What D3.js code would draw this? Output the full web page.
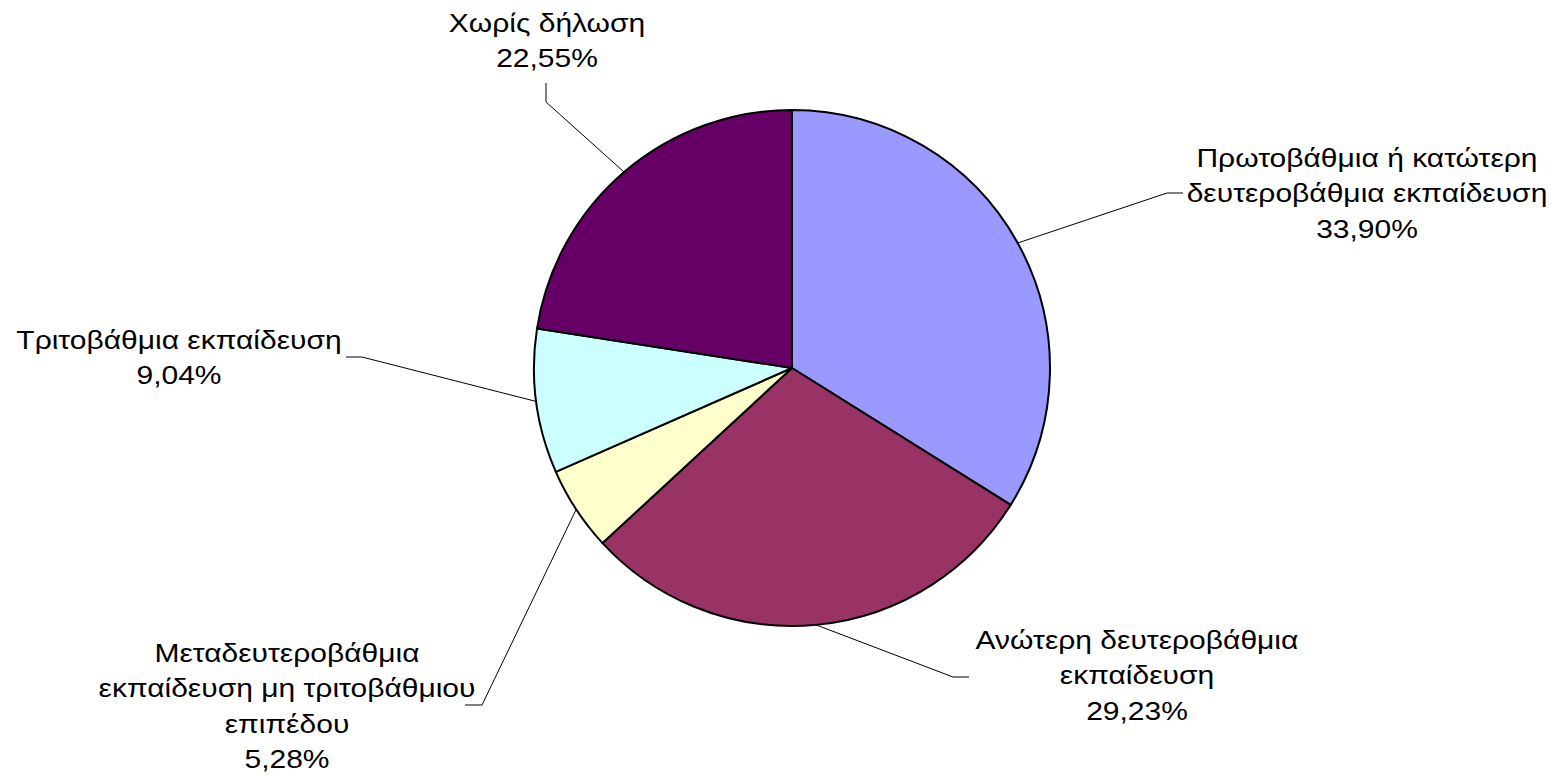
<!DOCTYPE html>
<html>
<head>
<meta charset="utf-8">
<script src="https://cdn.jsdelivr.net/npm/d3@7"></script>
<style>
  html, body { margin: 0; padding: 0; background: #fff; }
  svg { display: block; }
  text { font-family: "Liberation Sans", Arial, sans-serif; fill: #000; }
</style>
</head>
<body>
<svg id="chart" width="1556" height="776"></svg>
<script>
const categories = [
  ["Πρωτοβάθμια ή κατώτερη", "δευτεροβάθμια εκπαίδευση"],
  ["Ανώτερη δευτεροβάθμια", "εκπαίδευση"],
  ["Μεταδευτεροβάθμια", "εκπαίδευση μη τριτοβάθμιου", "επιπέδου"],
  ["Τριτοβάθμια εκπαίδευση"],
  ["Χωρίς δήλωση"]
];
const values = [33.90, 29.23, 5.28, 9.04, 22.55];
const valueLabels = ["33,90%", "29,23%", "5,28%", "9,04%", "22,55%"];
const colors = ["#9999FF", "#993366", "#FFFFCC", "#CCFFFF", "#660066"];

// label layout: [centerX, firstLineCenterY], leader elbow & end
const labelPos = [
  [1367, 158], [1137, 640], [287, 653], [179, 340], [547, 23]
];
const leaderElbow = [[1167, 193], [953, 677], [482, 705], [362, 357], [546, 102]];
const leaderEnd   = [[1183, 193], [969, 677], [465, 705], [346, 357], [546, 83]];

const cx = 792, cy = 368, R = 258;
const lineH = 35.5;
const stretch = 1.2;

const svg = d3.select("#chart");
const g = svg.append("g").attr("transform", `translate(${cx},${cy})`);

const pie = d3.pie().sort(null).value(d => d)(values);
const arc = d3.arc().innerRadius(0).outerRadius(R);

g.selectAll("path.slice").data(pie).join("path")
  .attr("class", "slice")
  .attr("d", arc)
  .attr("fill", (d, i) => colors[i])
  .attr("stroke", "#000")
  .attr("stroke-width", 2)
  .attr("stroke-linejoin", "round");

// leader lines
pie.forEach((d, i) => {
  const a = (d.startAngle + d.endAngle) / 2;
  const px = cx + R * Math.sin(a), py = cy - R * Math.cos(a);
  svg.append("polyline")
    .attr("points", [[px, py], leaderElbow[i], leaderEnd[i]].map(p => p.join(",")).join(" "))
    .attr("fill", "none")
    .attr("stroke", "#000")
    .attr("stroke-width", 1);
});

// labels
categories.forEach((lines, i) => {
  const all = lines.concat([valueLabels[i]]);
  const lx = labelPos[i][0];
  const t = svg.append("text")
    .attr("text-anchor", "middle")
    .attr("font-size", 25)
    .attr("transform", `translate(${lx},0) scale(${stretch},1) translate(${-lx},0)`);
  all.forEach((s, j) => {
    t.append("tspan")
      .attr("x", lx)
      .attr("y", labelPos[i][1] + j * lineH)
      .attr("dominant-baseline", "central")
      .text(s);
  });
});
</script>
</body>
</html>
